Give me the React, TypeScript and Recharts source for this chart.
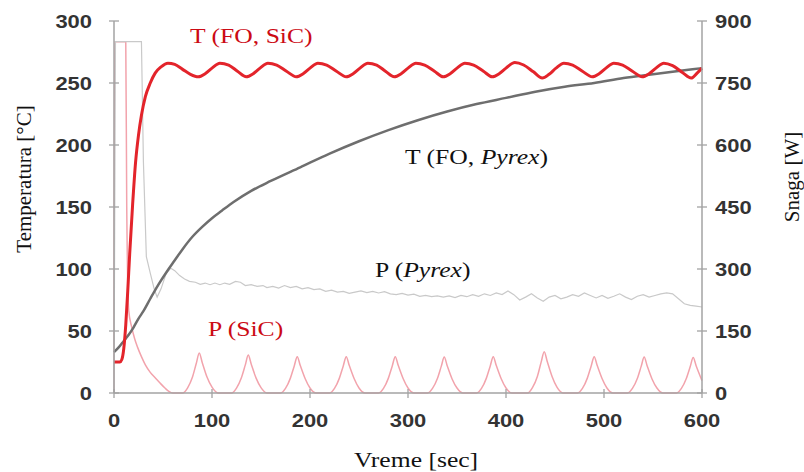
import { LineChart, Line, XAxis, YAxis } from "recharts";

// T (FO, SiC) – temperature of the SiC vessel [°C]
const tSicSec = [
  0, 6, 8, 10, 12, 14, 16, 19, 22, 25, 28, 32, 37, 42, 48, 55, 62, 70, 78,
  86, 93, 100, 108, 117, 126,
  135, 142, 149, 157, 166, 176,
  186, 193, 200, 208, 217, 227,
  237, 244, 251, 259, 268, 277,
  286, 293, 300, 308, 317, 327,
  336, 343, 350, 358, 367, 377,
  386, 393, 400, 409, 418, 428,
  437, 444, 451, 459, 468, 478,
  488, 495, 502, 510, 519, 529,
  539, 546, 553, 561, 570, 580,
  589, 595, 600,
];
const tSicDeg = [
  25, 25, 27, 36, 55, 82, 112, 152, 186, 208, 224, 239, 250, 258, 263, 266, 265, 261, 257,
  255, 257.5, 262, 266, 264.5, 259.5,
  255, 257.5, 262, 266, 264.5, 259.5,
  255, 257.5, 262, 266, 264.5, 259.5,
  255, 257.5, 262, 266, 264.5, 259.5,
  255, 257.5, 262, 266, 264.5, 259.5,
  255, 257.5, 262, 266, 264.5, 259.5,
  255, 257.5, 262, 266.5, 264.5, 259,
  254, 257, 262, 266, 264.5, 259.5,
  255, 257.5, 262, 266, 264.5, 259.5,
  255, 257.5, 262, 266, 264, 258.5,
  254, 258, 262,
];

// T (FO, Pyrex) [°C]
const tPyrSec = [
  0, 5, 10, 15, 20, 25, 30, 37, 45, 54, 62, 70, 80, 90, 100, 110, 122, 140, 160,
  190, 220, 250, 280, 310, 340, 370, 400, 430, 460, 490, 520, 550, 580, 600,
];
const tPyrDeg = [
  33, 37, 42, 47, 53, 60, 66, 76, 87, 98, 107, 116, 126, 134, 141, 147, 154, 163, 171,
  182, 193, 203, 212, 220, 227, 233, 238, 243, 247, 250, 254, 257, 260, 262,
];

// P (Pyrex) – power [W]
const pPyrSec = [
  0, 1.5, 28, 30, 33, 37, 41, 44, 48, 53, 58, 62, 67, 72, 77, 83, 88, 93, 98, 103,
  108, 113, 118, 124, 129, 134, 140, 146, 152, 156, 162, 168, 174, 180, 186, 192,
  198, 204, 210, 216, 222, 228, 234, 240, 246, 252, 258, 264, 270, 276, 282, 288,
  294, 300, 306, 312, 318, 324, 330, 336, 342, 348, 354, 360, 366, 372, 378, 384,
  390, 396, 402, 408, 414, 420, 426, 432, 438, 444, 450, 456, 462, 468, 474, 480,
  486, 492, 498, 504, 510, 516, 522, 528, 534, 540, 546, 552, 558, 564, 570, 576,
  582, 588, 594, 600,
];
const pPyrW = [
  0, 850, 850, 560, 330, 290, 252, 232, 252, 288, 302, 296, 284, 276, 270, 268, 263, 266, 262, 266,
  262, 266, 263, 270, 268, 260, 262, 258, 260, 255, 258, 254, 260, 255, 258, 252,
  255, 250, 252, 246, 249, 244, 246, 241, 244, 247, 243, 246, 242, 245, 240, 238,
  241, 237, 239, 234, 236, 233, 235, 232, 235, 231, 236, 233, 238, 234, 240, 236,
  242, 238, 247, 238, 225, 232, 240, 230, 222, 232, 236, 228, 232, 238, 234, 242,
  236, 230, 236, 229, 234, 240, 232, 226, 234, 238, 232, 236, 240, 242, 240, 228,
  216, 212, 210, 208,
];

// P (SiC) – power [W]
const pSicSec = [
  0, 0.5, 12, 13, 15, 18, 21, 24, 28, 32, 37, 42, 47, 52, 56, 60,
  70, 75, 80, 84, 87, 90, 95, 100, 106,
  120, 125, 130, 134, 137, 140, 145, 150, 156,
  170, 175, 180, 184, 187, 190, 195, 200, 206,
  220, 225, 230, 234, 237, 240, 245, 250, 256,
  270, 275, 280, 284, 287, 290, 295, 300, 306,
  320, 325, 330, 334, 337, 340, 345, 350, 356,
  370, 375, 380, 384, 387, 390, 395, 400, 406,
  422, 427, 432, 436, 439, 442, 447, 452, 458,
  473, 478, 483, 487, 490, 493, 498, 503, 509,
  524, 529, 534, 538, 541, 544, 549, 554, 560,
  574, 579, 584, 588, 591, 594, 600,
];
const pSicW = [
  0, 850, 850, 450, 200, 160, 132, 111, 88, 68, 50, 37, 24, 12, 4, 0,
  0, 12, 38, 72, 97, 74, 38, 14, 0,
  0, 12, 37, 68, 92, 70, 36, 13, 0,
  0, 11, 36, 66, 88, 67, 35, 12, 0,
  0, 11, 36, 66, 88, 67, 35, 12, 0,
  0, 11, 36, 66, 88, 67, 35, 12, 0,
  0, 11, 35, 65, 87, 66, 34, 12, 0,
  0, 11, 36, 66, 88, 67, 35, 12, 0,
  0, 13, 40, 76, 100, 77, 40, 14, 0,
  0, 11, 36, 66, 88, 67, 35, 12, 0,
  0, 11, 35, 65, 87, 66, 34, 12, 0,
  0, 11, 35, 64, 86, 66, 30,
];

const timeTicks = [0, 100, 200, 300, 400, 500, 600];
const tempTicks = [0, 50, 100, 150, 200, 250, 300];
const powerTicks = [0, 150, 300, 450, 600, 750, 900];

const zip = (xs: number[], ys: number[]) => xs.map((t, i) => ({ t, v: ys[i] }));

const tSicData = zip(tSicSec, tSicDeg);
const tPyrData = zip(tPyrSec, tPyrDeg);
const pPyrData = zip(pPyrSec, pPyrW);
const pSicData = zip(pSicSec, pSicW);

const SANS = "'Liberation Sans', Arial, sans-serif";
const SERIF = "'Liberation Serif', 'Times New Roman', serif";
const AXIS = "#a3a3a3";
const TICK_TXT = "#333";
const STRETCH = 1.22; // the source picture is a bit wider than tall

const LeftTick = (props: any) => {
  const { x, y, payload } = props;
  return (
    <g>
      <line x1={x - 5} x2={x + 5} y1={y} y2={y} stroke={AXIS} strokeWidth={1.3} />
      <g transform={`translate(${x - 22},${y + 6.5}) scale(${STRETCH},1)`}>
        <text textAnchor="end" fontFamily={SANS} fontWeight="bold" fontSize={18} fill={TICK_TXT}>
          {payload.value}
        </text>
      </g>
    </g>
  );
};

const RightTick = (props: any) => {
  const { x, y, payload } = props;
  return (
    <g>
      <line x1={x - 5} x2={x + 5} y1={y} y2={y} stroke={AXIS} strokeWidth={1.3} />
      <g transform={`translate(${x + 13},${y + 6.5}) scale(${STRETCH},1)`}>
        <text textAnchor="start" fontFamily={SANS} fontWeight="bold" fontSize={18} fill={TICK_TXT}>
          {payload.value}
        </text>
      </g>
    </g>
  );
};

const BottomTick = (props: any) => {
  const { x, y, payload } = props;
  return (
    <g>
      <line x1={x} x2={x} y1={y - 4} y2={y + 5} stroke={AXIS} strokeWidth={1.3} />
      <g transform={`translate(${x},${y + 34}) scale(${STRETCH},1)`}>
        <text textAnchor="middle" fontFamily={SANS} fontWeight="bold" fontSize={18} fill={TICK_TXT}>
          {payload.value}
        </text>
      </g>
    </g>
  );
};

const Label = ({ x, y, color, children }: { x: number; y: number; color: string; children: any }) => (
  <g transform={`translate(${x},${y}) scale(${STRETCH},1)`}>
    <text fontFamily={SERIF} fontSize={21} fill={color}>
      {children}
    </text>
  </g>
);

export default function App() {
  return (
    <div style={{ position: "absolute", left: 0, top: 0, width: 804, height: 472, background: "#fff" }}>
      <LineChart width={804} height={472} margin={{ top: 21, right: 0, bottom: 0, left: 0 }}>
        <XAxis
          dataKey="t"
          type="number"
          domain={[0, 600]}
          ticks={timeTicks}
          height={79}
          axisLine={{ stroke: AXIS, strokeWidth: 1.5 }}
          tickLine={false}
          tickSize={0}
          tickMargin={0}
          tick={<BottomTick />}
          interval={0}
        />
        <YAxis
          yAxisId="temp"
          domain={[0, 300]}
          ticks={tempTicks}
          width={114}
          axisLine={{ stroke: AXIS, strokeWidth: 1.5 }}
          tickLine={false}
          tickSize={0}
          tickMargin={0}
          tick={<LeftTick />}
          interval={0}
        />
        <YAxis
          yAxisId="power"
          orientation="right"
          domain={[0, 900]}
          ticks={powerTicks}
          width={102}
          axisLine={{ stroke: AXIS, strokeWidth: 1.5 }}
          tickLine={false}
          tickSize={0}
          tickMargin={0}
          tick={<RightTick />}
          interval={0}
        />
        <Line data={pSicData} dataKey="v" yAxisId="power" type="monotone" stroke="#f2a3ac" strokeWidth={1.5} dot={false} isAnimationActive={false} />
        <Line data={pPyrData} dataKey="v" yAxisId="power" type="linear" stroke="#c9c9c9" strokeWidth={1.2} dot={false} isAnimationActive={false} />
        <Line data={tPyrData} dataKey="v" yAxisId="temp" type="monotone" stroke="#6e6e6e" strokeWidth={2.5} dot={false} isAnimationActive={false} />
        <Line data={tSicData} dataKey="v" yAxisId="temp" type="monotone" stroke="#e3242b" strokeWidth={3} dot={false} isAnimationActive={false} />
      </LineChart>

      <svg width={804} height={472} style={{ position: "absolute", left: 0, top: 0, pointerEvents: "none" }}>
        <text
          transform="translate(31,179) rotate(-90)"
          textAnchor="middle"
          fontFamily={SERIF}
          fontSize={21}
          fill="#111"
        >
          Temperatura [°C]
        </text>
        <text
          transform="translate(799,177) rotate(-90)"
          textAnchor="middle"
          fontFamily={SERIF}
          fontSize={21}
          fill="#111"
        >
          Snaga [W]
        </text>
        <g transform={`translate(416,467) scale(${STRETCH},1)`}>
          <text textAnchor="middle" fontFamily={SERIF} fontSize={21} fill="#111">
            Vreme [sec]
          </text>
        </g>
        <Label x={190} y={43} color="#cc0a14">T (FO, SiC)</Label>
        <Label x={405} y={164} color="#111">
          T (FO, <tspan fontStyle="italic">Pyrex</tspan>)
        </Label>
        <Label x={375} y={277} color="#111">
          P (<tspan fontStyle="italic">Pyrex</tspan>)
        </Label>
        <Label x={208} y={336} color="#cc0a14">P (SiC)</Label>
      </svg>
    </div>
  );
}
